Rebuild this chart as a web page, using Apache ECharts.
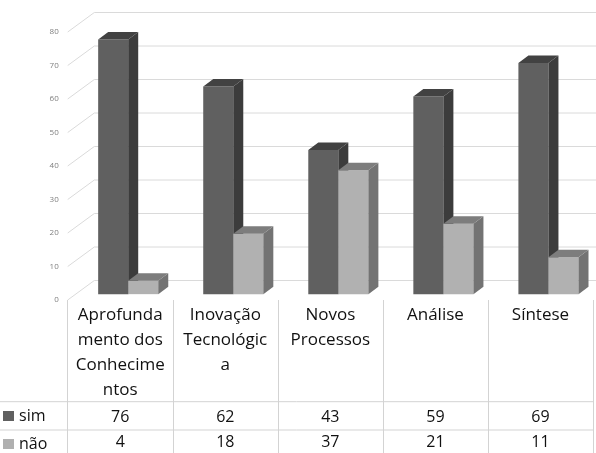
<!DOCTYPE html>
<html>
<head>
<meta charset="utf-8">
<script src="https://cdn.jsdelivr.net/npm/echarts@6/dist/echarts.min.js"></script>
<style>
  html, body { margin: 0; padding: 0; background: #fff; }
  #chart { width: 596px; height: 453px; }
</style>
</head>
<body>
<div id="chart"></div>
<script>
const categories = ['Aprofunda\nmento dos\nConhecime\nntos', 'Inovação\nTecnológic\na', 'Novos\nProcessos', 'Análise', 'Síntese']
const simValues = [76, 62, 43, 59, 69]
const naoValues = [4, 18, 37, 21, 11]
const yTicks = [0, 10, 20, 30, 40, 50, 60, 70, 80]

const FONT = '"Open Sans", "Noto Sans", sans-serif'
const DEPTH_X = 26.6 // profundidade da parede do fundo
const DEPTH_Y = -19.5

// barra 3D: frente, lado e topo
function bar3d (side, colors) {
  return function (params, api) {
    const i = api.value(0)
    const v = api.value(1)
    const base = api.coord([i, 0])
    const top = api.coord([i, v])
    const bw = api.size([1, 0])[0] * 0.286
    const ox = DEPTH_X * 0.3
    const oy = DEPTH_Y * 0.3
    const dx = 10
    const dy = -7.5
    const x0 = base[0] + ox + (side === 0 ? -bw : 0)
    const x1 = x0 + bw
    const yb = base[1] + oy
    const yt = top[1] + oy
    return {
      type: 'group',
      children: [
        { type: 'rect', shape: { x: x0, y: yt, width: bw, height: yb - yt }, style: { fill: colors[0] } },
        { type: 'polygon', shape: { points: [[x1, yt], [x1 + dx, yt + dy], [x1 + dx, yb + dy], [x1, yb]] }, style: { fill: colors[1] } },
        { type: 'polygon', shape: { points: [[x0, yt], [x0 + dx, yt + dy], [x1 + dx, yt + dy], [x1, yt]] }, style: { fill: colors[2] } }
      ]
    }
  }
}

// linhas de grade: diagonal + parede do fundo
function wallLine (params, api) {
  const cs = params.coordSys
  const p = api.coord([0, api.value(0)])
  const x = cs.x
  const y = p[1]
  return {
    type: 'polyline',
    shape: { points: [[x, y], [x + DEPTH_X, y + DEPTH_Y], [600, y + DEPTH_Y]] },
    style: { stroke: '#dadada', lineWidth: 1, fill: null }
  }
}

const myEcharts = echarts.init(document.getElementById('chart'))
const option = {
  animation: false,
  textStyle: { fontFamily: FONT },
  grid: { left: 67.7, right: 3, top: 32, bottom: 153 },
  legend: {
    data: ['sim', 'não'],
    orient: 'vertical',
    left: 3,
    top: 407,
    padding: 0,
    height: 80,
    itemWidth: 11,
    itemHeight: 10,
    itemGap: 10,
    icon: 'rect',
    textStyle: { fontFamily: FONT, fontSize: 16, color: '#111', lineHeight: 18 }
  },
  xAxis: [
    {
      type: 'category',
      data: categories,
      axisLine: { show: false },
      axisTick: { show: true, length: 160, lineStyle: { color: '#d3d3d3' } },
      axisLabel: { fontSize: 17, lineHeight: 25, color: '#111', margin: 3, verticalAlign: 'top', interval: 0 }
    },
    {
      type: 'category',
      data: simValues.map(String),
      position: 'bottom',
      offset: 101.7,
      axisLine: { show: false },
      axisTick: { show: false },
      axisLabel: { fontSize: 16, color: '#111', margin: 8, verticalAlign: 'top', interval: 0 }
    },
    {
      type: 'category',
      data: naoValues.map(String),
      position: 'bottom',
      offset: 130,
      axisLine: { show: false },
      axisTick: { show: false },
      axisLabel: { fontSize: 16, color: '#111', margin: 4, verticalAlign: 'top', interval: 0 }
    }
  ],
  yAxis: {
    type: 'value',
    min: 0,
    max: 80,
    interval: 10,
    splitLine: { show: false },
    axisLine: { show: false },
    axisTick: { show: false },
    axisLabel: { fontSize: 8, color: '#7f7f7f', margin: 9 }
  },
  graphic: [
    { type: 'line', shape: { x1: 0, y1: 401.7, x2: 593, y2: 401.7 }, style: { stroke: '#d3d3d3', lineWidth: 1 } },
    { type: 'line', shape: { x1: 0, y1: 430, x2: 593, y2: 430 }, style: { stroke: '#d3d3d3', lineWidth: 1 } }
  ],
  series: [
    {
      name: 'grade',
      type: 'custom',
      z: 1,
      silent: true,
      renderItem: wallLine,
      data: yTicks.map(v => [v])
    },
    {
      name: 'sim',
      type: 'custom',
      z: 2,
      itemStyle: { color: '#606060' },
      renderItem: bar3d(0, ['#606060', '#3c3c3c', '#424242']),
      data: simValues.map((v, i) => [i, v])
    },
    {
      name: 'não',
      type: 'custom',
      z: 3,
      itemStyle: { color: '#b0b0b0' },
      renderItem: bar3d(1, ['#b1b1b1', '#737373', '#7d7d7d']),
      data: naoValues.map((v, i) => [i, v])
    }
  ]
}
myEcharts.setOption(option)
</script>
</body>
</html>
